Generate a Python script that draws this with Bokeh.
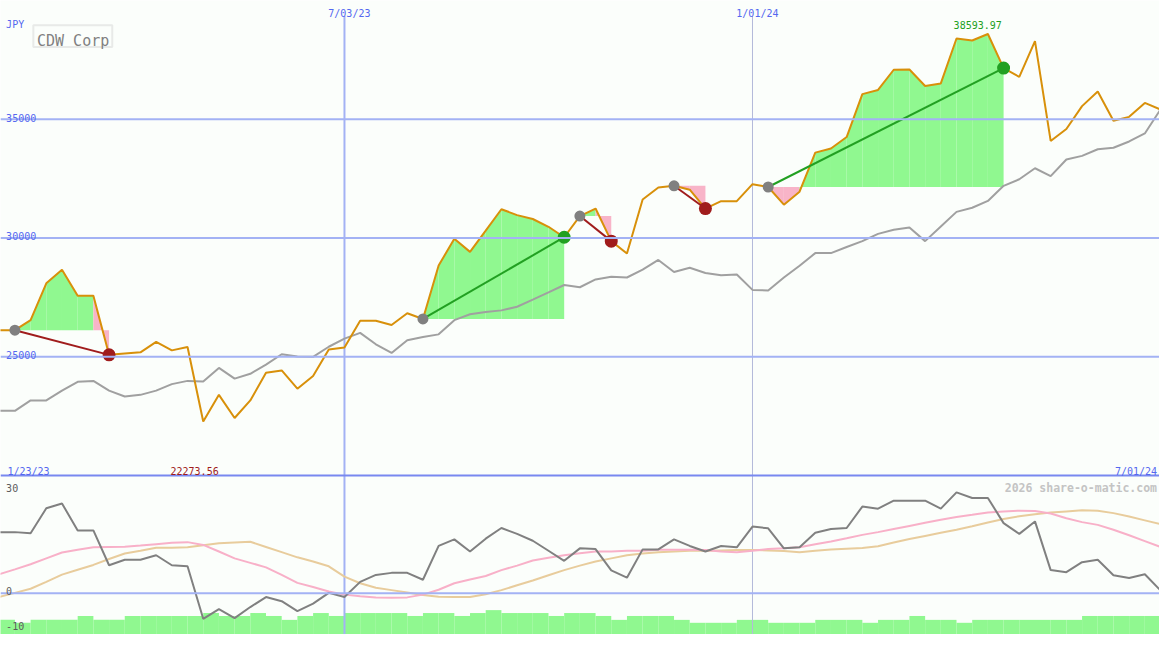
import pandas as pd
from bokeh.plotting import figure
from bokeh.models import Range1d, Span, Label, BoxAnnotation
from bokeh.embed import file_html
from bokeh.resources import INLINE

# ---------------- data ----------------
dates = [d.strftime("%-m/%d/%y") for d in pd.date_range("2023-01-30", periods=75, freq="7D")]
window_start_label = "1/23/23"
currency = "JPY"
title = "CDW Corp"
watermark = "2026 share-o-matic.com"

close = [26121, 26121, 26544, 28093, 28667, 27571, 27571, 25082, 25136, 25189,
         25628, 25271, 25411, 22273.56, 23398, 22425, 23164, 24326, 24425, 23657,
         24191, 25312, 25394, 26520, 26520, 26339, 26832, 26593, 28844, 29969,
         29419, 30310, 31214, 30967, 30803, 30475, 30035, 30926, 31243, 29871,
         29353, 31625, 32130, 32200, 32035, 31243, 31555, 31555, 32269, 32150,
         31407, 31953, 33596, 33773, 34253, 36060, 36237, 37087, 37099, 36401,
         36512, 38401, 38319, 38593.97, 37157, 36787, 38290, 34089, 34594, 35555,
         36171, 34939, 35103, 35691, 35415]

moving_avg = [22725, 22725, 23164, 23164, 23575, 23945, 23986, 23575, 23328, 23398,
              23575, 23850, 23986, 23957, 24532, 24080, 24285, 24671, 25107, 25012,
              25000, 25423, 25764, 26010, 25526, 25164, 25698, 25834, 25945, 26544,
              26791, 26889, 26955, 27107, 27407, 27711, 28023, 27928, 28257, 28368,
              28339, 28667, 29078, 28573, 28750, 28532, 28433, 28462, 27817, 27793,
              28339, 28832, 29366, 29366, 29624, 29871, 30175, 30351, 30446, 29871,
              30487, 31103, 31275, 31563, 32200, 32475, 32939, 32610, 33308, 33460,
              33740, 33801, 34068, 34405, 35415]

momentum = [17.7, 17.7, 17.4, 24.6, 26.0, 18.2, 18.2, 8.1, 9.7, 9.7,
            11.0, 8.1, 7.8, -7.4, -4.6, -7.2, -4.0, -1.1, -2.3, -5.2,
            -3.0, 0.1, -1.1, 3.3, 5.3, 5.9, 5.9, 3.9, 13.7, 15.6,
            12.1, 15.8, 18.9, 17.2, 15.2, 12.3, 9.4, 13.0, 12.8, 6.6,
            4.5, 12.7, 12.7, 15.6, 13.7, 12.1, 13.7, 13.3, 19.3, 18.8,
            13.0, 13.3, 17.5, 18.6, 18.9, 25.1, 24.5, 26.8, 26.8, 26.8,
            24.5, 29.2, 27.6, 27.6, 20.3, 17.2, 20.8, 6.7, 6.1, 9.0,
            9.7, 5.2, 4.4, 5.5, 0.8]

signal_fast = [5.5, 6.9, 8.4, 10.1, 11.8, 12.6, 13.3, 13.4, 13.5, 13.8,
               14.2, 14.6, 14.8, 14.0, 12.1, 10.1, 8.8, 7.5, 5.3, 3.0,
               1.8, 0.5, -0.4, -0.9, -1.2, -1.3, -1.2, -0.4, 1.0, 2.9,
               4.0, 5.0, 6.7, 8.0, 9.5, 10.3, 11.0, 11.6, 12.1, 12.1,
               12.3, 12.3, 12.6, 12.6, 12.6, 12.5, 12.1, 11.9, 12.3, 12.8,
               13.0, 13.3, 14.2, 15.0, 15.9, 16.9, 17.7, 18.6, 19.5, 20.4,
               21.3, 22.1, 22.7, 23.4, 23.7, 23.9, 23.8, 23.1, 21.7, 20.6,
               19.8, 18.4, 16.8, 15.1, 13.4]

signal_slow = [-1.1, 0.1, 1.3, 3.3, 5.4, 6.8, 8.2, 9.9, 11.5, 12.3,
               13.2, 13.2, 13.3, 13.9, 14.5, 14.7, 14.9, 13.4, 11.9, 10.4,
               9.2, 7.8, 4.8, 2.9, 1.6, 0.9, 0.2, -0.5, -1.0, -1.1,
               -1.1, -0.3, 0.9, 2.3, 3.7, 5.2, 6.7, 8.0, 9.2, 10.1,
               11.0, 11.5, 11.9, 12.1, 12.3, 12.3, 12.4, 12.5, 12.5, 12.4,
               12.2, 11.9, 12.3, 12.7, 12.9, 13.1, 13.6, 14.7, 15.7, 16.6,
               17.5, 18.4, 19.4, 20.5, 21.5, 22.3, 22.9, 23.4, 23.7, 24.0,
               23.9, 23.2, 22.2, 21.1, 20.0]

volume = [1.5, 1.2, 1.5, 1.5, 1.5, 1.9, 1.5, 1.5, 1.9, 1.9,
          1.9, 1.9, 1.9, 2.2, 1.9, 1.9, 2.2, 1.9, 1.5, 1.9,
          2.2, 1.9, 2.2, 2.2, 2.2, 2.2, 1.9, 2.2, 2.2, 1.9,
          2.2, 2.5, 2.2, 2.2, 2.2, 1.9, 2.2, 2.2, 1.9, 1.5,
          1.9, 1.9, 1.9, 1.5, 1.2, 1.2, 1.2, 1.5, 1.5, 1.2,
          1.2, 1.2, 1.5, 1.5, 1.5, 1.2, 1.5, 1.5, 1.9, 1.5,
          1.5, 1.2, 1.5, 1.5, 1.5, 1.5, 1.5, 1.5, 1.5, 1.9,
          1.9, 1.9, 1.9, 1.9, 1.9]

entry_idx = [1, 27, 37, 43, 49]
exit_idx = [7, 36, 39, 45, 64]

price_ticks = [25000, 30000, 35000]
osc_ticks = [30, 0, -10]

# ---------------- layout helpers (reference pixel -> data) ----------------
W, H = 1159, 634
def X(px):
    return (px + 1.3) / 15.91
def P(py):
    return 25000 + (365.3 - py) * 41.07
def O(py):
    return (607.7 - py) / 3.54

BG = "#fbfefb"
BLUE_TXT = "#5468f0"
GRID = "#a3b2f4"
ORANGE = "#d8900a"
GREEN_FILL = "#90f890"
PINK_FILL = "#f8b4c8"
WIN = "#22a022"
LOSS = "#a01c1c"
FONT = "DejaVu Sans Mono"

p = figure(width=W, height=H, output_backend="svg", toolbar_location=None,
           x_range=Range1d(X(0), X(1175)), y_range=Range1d(P(650), P(0)),
           x_axis_location=None, y_axis_location=None, min_border=0,
           background_fill_color=BG, border_fill_color=BG, outline_line_color=None)
p.grid.visible = False
p.extra_y_ranges = {"osc": Range1d(O(650), O(0)), "vol": Range1d(0, 65)}

idx = list(range(len(close)))

# ---------------- lower panel: volume bars ----------------
p.quad(left=idx, right=[i + 1 for i in idx], bottom=0, top=volume,
       y_range_name="vol", fill_color=GREEN_FILL, line_color=None)

# ---------------- grid lines ----------------
for t in price_ticks:
    p.add_layout(Span(location=t, dimension="width", line_color=GRID, line_width=2))
p.add_layout(Span(location=0, dimension="width", y_range_name="osc", line_color=GRID, line_width=2))
p.add_layout(Span(location=P(487), dimension="width", line_color="#7888f0", line_width=2))

i_mid = dates.index("7/03/23")
i_year = dates.index("1/01/24")
p.segment(x0=[i_mid], y0=[P(16)], x1=[i_mid], y1=[P(650)], line_color=GRID, line_width=2)
p.segment(x0=[i_year], y0=[P(16)], x1=[i_year], y1=[P(650)], line_color="#b4bada", line_width=1)

# ---------------- trade fills ----------------
xs, ys, cols = [], [], []
for e, x in zip(entry_idx, exit_idx):
    E = close[e]
    for k in range(e, x):
        xs.append([k, k, k + 1, k + 1])
        ys.append([E, close[k], close[k + 1], E])
        cols.append(GREEN_FILL if close[k + 1] >= E else PINK_FILL)
p.patches(xs=xs, ys=ys, fill_color=cols, line_color=None)

# ---------------- price & moving average ----------------
p.line(idx, moving_avg, line_color="#a0a0a0", line_width=2)
p.line(idx, close, line_color=ORANGE, line_width=2)

# ---------------- trades ----------------
for e, x in zip(entry_idx, exit_idx):
    col = WIN if close[x] > close[e] else LOSS
    p.line([e, x], [close[e], close[x]], line_color=col, line_width=2)
p.scatter([e for e in entry_idx], [close[e] for e in entry_idx], size=11,
          fill_color="#808080", line_color=None)
p.scatter([x for x in exit_idx], [close[x] for x in exit_idx], size=13,
          fill_color=[WIN if close[x] > close[e] else LOSS for e, x in zip(entry_idx, exit_idx)],
          line_color=None)

# ---------------- oscillator panel ----------------
p.line(idx, signal_slow, y_range_name="osc", line_color="#e8cc9c", line_width=2)
p.line(idx, signal_fast, y_range_name="osc", line_color="#f8b0c8", line_width=2)
p.line(idx, momentum, y_range_name="osc", line_color="#808080", line_width=2)

# ---------------- texts ----------------
def lab(text, x, y, color, size="10px", align="left", style="normal", y_range_name="default"):
    p.add_layout(Label(x=x, y=y, text=text, text_color=color, text_font=FONT,
                       text_font_size=size, text_align=align, text_baseline="alphabetic",
                       text_font_style=style, y_range_name=y_range_name))

lab(currency, X(5.7), P(25), BLUE_TXT)
for t in price_ticks:
    lab(str(t), X(5.7), t + 1.7 * 41.07, BLUE_TXT)
lab(dates[i_mid], i_mid - 16.4 / 15.91, P(13.3), BLUE_TXT)
lab(dates[i_year], i_year - 16.4 / 15.91, P(13.3), BLUE_TXT)
lab(window_start_label, X(7), P(483), BLUE_TXT)
lab(dates[-1], X(1172.5), P(483), BLUE_TXT, align="right")

imax = close.index(max(close))
imin = close.index(min(close))
lab(f"{close[imax]:.2f}", imax - 0.65, P(25), WIN, align="center")
lab(f"{close[imin]:.2f}", imin - 0.55, P(482.7), LOSS, align="center")

p.add_layout(BoxAnnotation(left=X(33.3), right=X(113.3), top=P(25.3), bottom=P(47.7),
                           fill_color=None, line_color="#bdbdbd", line_width=2))
lab(title, X(37), P(41.7), "#808080", size="15px")

lab(watermark, X(1172.5), P(500), "#c4c4c4", size="11.5px", align="right", style="bold")
for t in osc_ticks:
    base = O(641.5) if t == min(osc_ticks) else t + 2.2 / 3.54
    lab(str(t), X(5.7), base, "#5c5c5c", y_range_name="osc")

open("out.html", "w").write(file_html(p, INLINE))
